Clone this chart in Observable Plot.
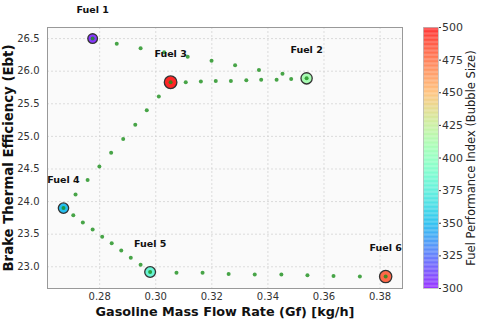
<!DOCTYPE html>
<html>
<head>
<meta charset="utf-8">
<script src="https://cdn.jsdelivr.net/npm/d3@7"></script>
<script src="https://cdn.jsdelivr.net/npm/@observablehq/plot@0.6"></script>
<style>
  html, body { margin: 0; padding: 0; background: #fff; }
  #wrap { position: relative; width: 480px; height: 321px; font-family: "DejaVu Sans", sans-serif; }
  #main { position: absolute; left: 0; top: 0; }
  #cbar { position: absolute; left: 415px; top: 0; }
</style>
</head>
<body>
<div id="wrap"><div id="main"></div><div id="cbar"></div></div>
<script>
// ---- data ----
const fuels = ["Fuel 1", "Fuel 2", "Fuel 3", "Fuel 4", "Fuel 5", "Fuel 6"];
const fuelGf = [0.2775, 0.3538, 0.3053, 0.2671, 0.2980, 0.3820];
const fuelEbt = [26.50, 25.89, 25.83, 23.90, 22.92, 22.85];
const fuelIndex = [305, 410, 500, 350, 380, 480];

// green trajectory points (intermediate)
const path12Gf = [0.2861, 0.2946, 0.3030, 0.3114, 0.3199, 0.3283, 0.3368, 0.3452];
const path12Ebt = [26.42, 26.35, 26.29, 26.22, 26.16, 26.09, 26.02, 25.96];
const path32Gf = [0.3107, 0.3161, 0.3214, 0.3268, 0.3323, 0.3376, 0.3431, 0.3483];
const path32Ebt = [25.83, 25.84, 25.85, 25.85, 25.86, 25.87, 25.87, 25.88];
const path43Gf = [0.2714, 0.2757, 0.2799, 0.2841, 0.2884, 0.2927, 0.2968, 0.3011];
const path43Ebt = [24.11, 24.33, 24.54, 24.75, 24.96, 25.18, 25.40, 25.61];
const path45Gf = [0.2706, 0.2740, 0.2775, 0.2809, 0.2843, 0.2877, 0.2911, 0.2946];
const path45Ebt = [23.79, 23.68, 23.57, 23.46, 23.36, 23.25, 23.14, 23.03];
const path56Gf = [0.3074, 0.3167, 0.3260, 0.3353, 0.3448, 0.3541, 0.3634, 0.3728];
const path56Ebt = [22.91, 22.91, 22.89, 22.88, 22.88, 22.87, 22.86, 22.85];

const xTicks = [0.28, 0.30, 0.32, 0.34, 0.36, 0.38];
const yTicks = [23.0, 23.5, 24.0, 24.5, 25.0, 25.5, 26.0, 26.5];
const cTicks = [300, 325, 350, 375, 400, 425, 450, 475, 500];

const xLabel = "Gasoline Mass Flow Rate (Gf) [kg/h]";
const yLabel = "Brake Thermal Efficiency (Ebt)";
const cLabel = "Fuel Performance Index (Bubble Size)";

// ---- build tables ----
const fuelData = fuels.map((f, i) => ({name: f, gf: fuelGf[i], ebt: fuelEbt[i], idx: fuelIndex[i]}));
const pathData = [];
[[path12Gf, path12Ebt], [path32Gf, path32Ebt], [path43Gf, path43Ebt], [path45Gf, path45Ebt], [path56Gf, path56Ebt]]
  .forEach(([gx, gy]) => gx.forEach((v, i) => pathData.push({gf: v, ebt: gy[i]})));
fuelData.forEach(d => pathData.push({gf: d.gf, ebt: d.ebt}));

// matplotlib "rainbow" colormap
function rainbow(t) {
  const c = v => Math.max(0, Math.min(1, v));
  const r = c(Math.abs(2 * t - 0.5));
  const g = c(Math.sin(t * Math.PI));
  const b = c(Math.cos(t * Math.PI / 2));
  return `rgb(${Math.round(r * 255)},${Math.round(g * 255)},${Math.round(b * 255)})`;
}
const colorOpts = {type: "linear", domain: [300, 500], interpolate: rainbow};
const font = "DejaVu Sans, sans-serif";

const main = Plot.plot({
  width: 415, height: 321,
  marginLeft: 47, marginTop: 27, marginRight: 13, marginBottom: 33,
  style: {fontFamily: font, fontSize: "10px", color: "#222", background: "transparent", overflow: "visible"},
  x: {domain: [0.2614, 0.3880], ticks: xTicks, tickFormat: d3.format(".2f"), label: null},
  y: {domain: [22.667, 26.670], ticks: yTicks, tickFormat: d3.format(".1f"), label: null},
  color: colorOpts,
  r: {type: "linear", domain: [300, 500], range: [4.8, 6.3]},
  marks: [
    Plot.frame({fill: "#fafafa", stroke: "none"}),
    Plot.gridX(xTicks, {stroke: "#cfcfcf", strokeOpacity: 1, strokeDasharray: "2,2", strokeWidth: 0.7}),
    Plot.gridY(yTicks, {stroke: "#cfcfcf", strokeOpacity: 1, strokeDasharray: "2,2", strokeWidth: 0.7}),
    Plot.frame({stroke: "#999", strokeWidth: 1}),
    Plot.axisX(xTicks, {tickSize: 0, tickPadding: 4, fontSize: 10, fill: "#333", tickFormat: d3.format(".2f")}),
    Plot.axisY(yTicks, {tickSize: 0, tickPadding: 8, fontSize: 10, fill: "#333", tickFormat: d3.format(".1f")}),
    Plot.dot(fuelData, {x: "gf", y: "ebt", r: "idx", fill: "idx", fillOpacity: 0.85, stroke: "#333", strokeWidth: 1.3}),
    Plot.dot(pathData, {x: "gf", y: "ebt", r: 2, fill: "#1a8f1a", fillOpacity: 0.8}),
    Plot.text(fuelData, {x: "gf", y: "ebt", text: "name", dy: -28.5, fontWeight: "bold", fontSize: 9.5, fill: "#111"}),
    Plot.text([xLabel], {frameAnchor: "bottom", dy: 23, textAnchor: "middle", lineAnchor: "middle", fontWeight: "bold", fontSize: 12.8, fill: "#111"}),
    Plot.text([yLabel], {frameAnchor: "left", dx: -39, rotate: -90, textAnchor: "middle", lineAnchor: "middle", fontWeight: "bold", fontSize: 13.3, fill: "#111"})
  ]
});
document.getElementById("main").appendChild(main);

const cbarVals = d3.range(300, 500, 1);
const cbar = Plot.plot({
  width: 65, height: 321,
  marginLeft: 8, marginRight: 42, marginTop: 27, marginBottom: 33,
  style: {fontFamily: font, fontSize: "11px", color: "#222", background: "transparent", overflow: "visible"},
  x: {domain: [0, 1], axis: null},
  y: {domain: [300, 500], ticks: cTicks, label: null},
  color: colorOpts,
  marks: [
    Plot.rect(cbarVals, {x1: 0, x2: 1, y1: d => d, y2: d => d + 1, fill: d => d + 0.5, fillOpacity: 0.8}),
    Plot.frame({stroke: "#bbb", strokeWidth: 0.8}),
    Plot.axisY(cTicks, {anchor: "right", tickSize: 2, tickPadding: 1.5, fontSize: 11, fill: "#333", stroke: "#333"}),
    Plot.text([cLabel], {frameAnchor: "right", dx: 33, rotate: -90, textAnchor: "middle", lineAnchor: "middle", fontSize: 11.5, fill: "#222"})
  ]
});
document.getElementById("cbar").appendChild(cbar);
</script>
</body>
</html>
